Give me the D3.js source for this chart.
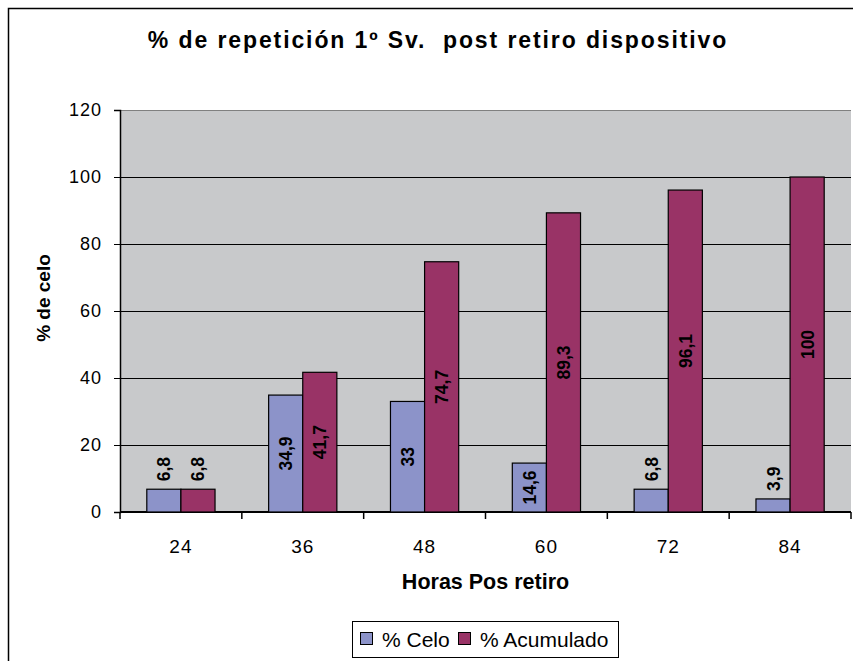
<!DOCTYPE html>
<html>
<head>
<meta charset="utf-8">
<script src="https://cdn.jsdelivr.net/npm/d3@7"></script>
<style>
  body { margin: 0; background: #fff; }
  svg { font-family: "Liberation Sans", Arial, sans-serif; }
</style>
</head>
<body>
<div id="chart"></div>
<script>
// data
const horas = ["24", "36", "48", "60", "72", "84"];
const celo = [6.8, 34.9, 33, 14.6, 6.8, 3.9];
const acumulado = [6.8, 41.7, 74.7, 89.3, 96.1, 100];
const serieNames = ["% Celo", "% Acumulado"];
const yTicks = [0, 20, 40, 60, 80, 100, 120];

const width = 853, height = 661;
const margin = {left: 120, right: 2, top: 110, bottom: 149};
const colors = ["#8c93c9", "#993366"];

let svg = d3.select("#chart").append("svg")
    .attr("width", width)
    .attr("height", height);

// outer chart border (runs off the right and bottom edge)
svg.append("rect")
    .attr("x", 8.5).attr("y", 8.5)
    .attr("width", width + 20).attr("height", height + 20)
    .attr("fill", "#fff").attr("stroke", "#000").attr("stroke-width", 1.5);

let xScale = d3.scaleBand()
    .domain(horas)
    .range([margin.left, width - margin.right]);

let yScale = d3.scaleLinear()
    .domain([0, 120])
    .range([height - margin.bottom, margin.top]);

const band = xScale.bandwidth();
const barW = band * 0.28;

// plot background
svg.append("rect")
    .attr("x", margin.left).attr("y", margin.top)
    .attr("width", width - margin.right - margin.left)
    .attr("height", yScale(0) - margin.top)
    .attr("fill", "#c8c9cb");
svg.append("line")
    .attr("x1", margin.left).attr("x2", width - margin.right)
    .attr("y1", margin.top + 0.5).attr("y2", margin.top + 0.5)
    .attr("stroke", "#808080");

// gridlines
svg.selectAll("line.grid")
    .data(yTicks.filter(d => d > 0 && d < 120))
    .join("line")
    .attr("class", "grid")
    .attr("x1", margin.left).attr("x2", width - margin.right)
    .attr("y1", d => Math.round(yScale(d)) + 0.5)
    .attr("y2", d => Math.round(yScale(d)) + 0.5)
    .attr("stroke", "#000").attr("stroke-width", 1);

// y axis
let yAxis = d3.axisLeft(yScale).tickValues(yTicks).tickSize(6).tickPadding(12);
let gy = svg.append("g").attr("transform", `translate(${margin.left},0)`).call(yAxis);
gy.select(".domain").attr("stroke", "#000").attr("stroke-width", 1.5);
gy.selectAll("text").attr("font-size", 18).attr("fill", "#000")
    .attr("letter-spacing", 1)
    .attr("font-family", "Liberation Sans, Arial, sans-serif");

// x axis: ticks at category boundaries
let gx = svg.append("g").attr("transform", `translate(0,${yScale(0)})`);
gx.append("line")
    .attr("x1", margin.left).attr("x2", width - margin.right)
    .attr("stroke", "#000").attr("stroke-width", 2);
gx.selectAll("line.tick")
    .data(horas.map(h => xScale(h)).concat([width - margin.right]))
    .join("line")
    .attr("class", "tick")
    .attr("x1", d => d).attr("x2", d => d)
    .attr("y1", 0).attr("y2", 7)
    .attr("stroke", "#000").attr("stroke-width", 1.5);
gx.selectAll("text")
    .data(horas)
    .join("text")
    .attr("x", d => xScale(d) + band / 2)
    .attr("y", 41)
    .attr("text-anchor", "middle")
    .attr("font-size", 19)
    .attr("letter-spacing", 1)
    .text(d => d);

// bars
const series = [celo, acumulado];
series.forEach((vals, s) => {
    let g = svg.append("g");
    g.selectAll("rect")
        .data(vals)
        .join("rect")
        .attr("x", (d, i) => xScale(horas[i]) + band / 2 - barW + s * barW)
        .attr("y", d => yScale(d))
        .attr("width", barW)
        .attr("height", d => yScale(0) - yScale(d))
        .attr("fill", colors[s])
        .attr("stroke", "#000").attr("stroke-width", 1.2);

    g.selectAll("text")
        .data(vals)
        .join("text")
        .attr("transform", (d, i) => {
            let cx = xScale(horas[i]) + band / 2 - barW / 2 + s * barW;
            let h = yScale(0) - yScale(d);
            let cy = (h < 40) ? yScale(d) - 8 : yScale(d) + h / 2;
            return `translate(${cx + 6.5},${cy}) rotate(-90)`;
        })
        .attr("text-anchor", d => (yScale(0) - yScale(d) < 40) ? "start" : "middle")
        .attr("font-size", 17.5)
        .attr("font-weight", "bold")
        .text(d => String(d).replace(".", ","));
});

// titles
svg.append("text")
    .attr("x", 438).attr("y", 48)
    .attr("text-anchor", "middle")
    .attr("font-size", 23).attr("font-weight", "bold")
    .attr("letter-spacing", 1.9)
    .style("white-space", "pre")
    .text("% de repetición 1º Sv.  post retiro dispositivo");

svg.append("text")
    .attr("transform", `translate(50,298) rotate(-90)`)
    .attr("text-anchor", "middle")
    .attr("font-size", 19).attr("font-weight", "bold")
    .text("% de celo");

svg.append("text")
    .attr("x", (margin.left + width - margin.right) / 2).attr("y", 589)
    .attr("text-anchor", "middle")
    .attr("font-size", 21.5).attr("font-weight", "bold")
    .text("Horas Pos retiro");

// legend
let lg = svg.append("g").attr("transform", "translate(352,621)");
lg.append("rect").attr("x", 0.5).attr("y", 0.5).attr("width", 266).attr("height", 36)
    .attr("fill", "#fff").attr("stroke", "#000");
const legX = [8, 106];
serieNames.forEach((n, i) => {
    lg.append("rect").attr("x", legX[i] + 0.5).attr("y", 11.5).attr("width", 12).attr("height", 12)
        .attr("fill", colors[i]).attr("stroke", "#000");
    lg.append("text").attr("x", legX[i] + 22).attr("y", 26)
        .attr("font-size", 21).text(n);
});
</script>
</body>
</html>
